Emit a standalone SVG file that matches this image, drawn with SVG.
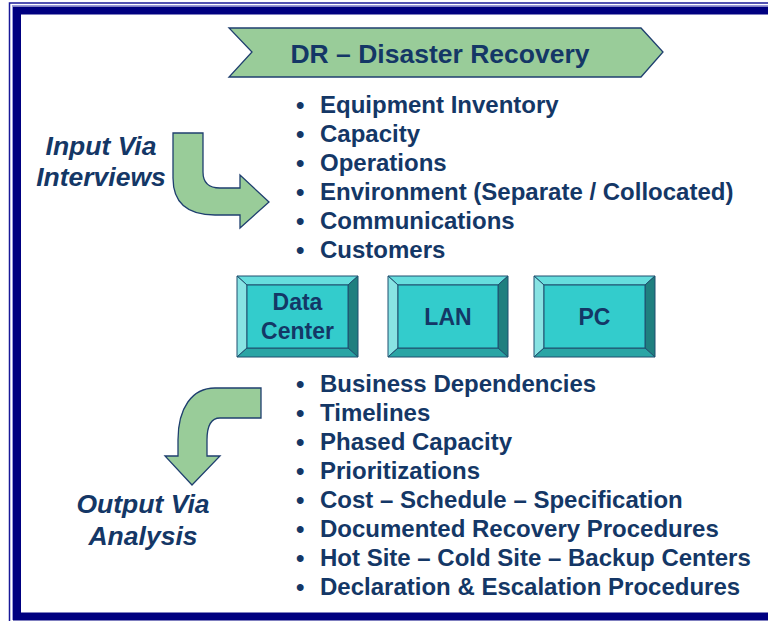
<svg xmlns="http://www.w3.org/2000/svg" width="768" height="621" viewBox="0 0 768 621">
  <defs>
    <style>
      .txt { font-family: "Liberation Sans", Arial, sans-serif; font-weight: bold; fill: #143766; }
      .title { font-size: 26.5px; }
      .item { font-size: 24px; }
      .side { font-size: 26.5px; font-style: italic; }
      .box { font-size: 23px; }
      .arrow { fill: #99CC99; stroke: #1F3F6F; stroke-width: 1.3; }
      .bev { stroke: #1F4F6F; stroke-width: 1; }
      .face { fill: #33CCCC; }
      .bt { fill: #66DDDD; }
      .bl { fill: #88E3E3; }
      .br { fill: #1F7F7F; }
      .bb { fill: #2AA5A5; }
    </style>
  </defs>

  <rect width="768" height="621" fill="#FFFFFF"/>

  <!-- page frame: thin outer rule plus heavy navy band -->
  <g id="frame" fill="none">
    <rect x="9.5" y="3" width="800" height="640" stroke="#1A1A99" stroke-width="1.5"/>
    <rect x="12.5" y="5.5" width="800" height="614" stroke="#9999DD" stroke-width="1"/>
    <rect x="17" y="10.5" width="800" height="606" stroke="#000080" stroke-width="8"/>
  </g>

  <!-- title banner -->
  <g id="title">
    <polygon class="arrow" points="229,28 641,28 663,52 641,77 229,77 252,52"/>
    <text class="txt title" x="440" y="63" text-anchor="middle">DR – Disaster Recovery</text>
  </g>

  <!-- input bullets -->
  <g id="inputs" class="txt item">
    <text x="296" y="113">•</text><text x="320" y="113">Equipment Inventory</text>
    <text x="296" y="142">•</text><text x="320" y="142">Capacity</text>
    <text x="296" y="171">•</text><text x="320" y="171">Operations</text>
    <text x="296" y="200">•</text><text x="320" y="200">Environment (Separate / Collocated)</text>
    <text x="296" y="229">•</text><text x="320" y="229">Communications</text>
    <text x="296" y="258">•</text><text x="320" y="258">Customers</text>
  </g>

  <!-- side labels -->
  <g id="input-label" class="txt side">
    <text x="101" y="155" text-anchor="middle">Input Via</text>
    <text x="101" y="186" text-anchor="middle">Interviews</text>
  </g>
  <g id="output-label" class="txt side">
    <text x="143" y="513" text-anchor="middle">Output Via</text>
    <text x="143" y="545" text-anchor="middle">Analysis</text>
  </g>

  <!-- bent block arrows -->
  <g id="connectors">
    <path class="arrow" d="M173,133 L203,133 L203,172 Q203,188 220,188 L240,188 L240,175 L269,202 L240,228 L240,215 L215,215 C188,215 173,203 173,178 Z"/>
    <path class="arrow" d="M261,388 L261,418 L220,418 Q207,418 207,440 L207,456 L220,456 L192,485 L165,456 L178,456 L178,440 C178,408 192,388 215,388 Z"/>
  </g>

  <!-- bevelled boxes -->
  <g id="data-center">
    <polygon class="bev bt" points="237,276 358,276 348,285 247,285"/>
    <polygon class="bev bl" points="237,276 247,285 247,348 237,357"/>
    <polygon class="bev br" points="358,276 358,357 348,348 348,285"/>
    <polygon class="bev bb" points="237,357 247,348 348,348 358,357"/>
    <rect class="bev face" x="247" y="285" width="101" height="63"/>
    <text class="txt box" x="297.5" y="310" text-anchor="middle">Data</text>
    <text class="txt box" x="297.5" y="339" text-anchor="middle">Center</text>
  </g>
  <g id="lan">
    <polygon class="bev bt" points="388,276 508,276 498,285 398,285"/>
    <polygon class="bev bl" points="388,276 398,285 398,348 388,357"/>
    <polygon class="bev br" points="508,276 508,357 498,348 498,285"/>
    <polygon class="bev bb" points="388,357 398,348 498,348 508,357"/>
    <rect class="bev face" x="398" y="285" width="100" height="63"/>
    <text class="txt box" x="448" y="325" text-anchor="middle">LAN</text>
  </g>
  <g id="pc">
    <polygon class="bev bt" points="534,276 655,276 645,285 544,285"/>
    <polygon class="bev bl" points="534,276 544,285 544,348 534,357"/>
    <polygon class="bev br" points="655,276 655,357 645,348 645,285"/>
    <polygon class="bev bb" points="534,357 544,348 645,348 655,357"/>
    <rect class="bev face" x="544" y="285" width="101" height="63"/>
    <text class="txt box" x="594.5" y="325" text-anchor="middle">PC</text>
  </g>

  <!-- output bullets -->
  <g id="outputs" class="txt item">
    <text x="296" y="392">•</text><text x="320" y="392">Business Dependencies</text>
    <text x="296" y="421">•</text><text x="320" y="421">Timelines</text>
    <text x="296" y="450">•</text><text x="320" y="450">Phased Capacity</text>
    <text x="296" y="479">•</text><text x="320" y="479">Prioritizations</text>
    <text x="296" y="508">•</text><text x="320" y="508">Cost – Schedule – Specification</text>
    <text x="296" y="537">•</text><text x="320" y="537">Documented Recovery Procedures</text>
    <text x="296" y="566">•</text><text x="320" y="566">Hot Site – Cold Site – Backup Centers</text>
    <text x="296" y="595">•</text><text x="320" y="595">Declaration &amp; Escalation Procedures</text>
  </g>
</svg>
